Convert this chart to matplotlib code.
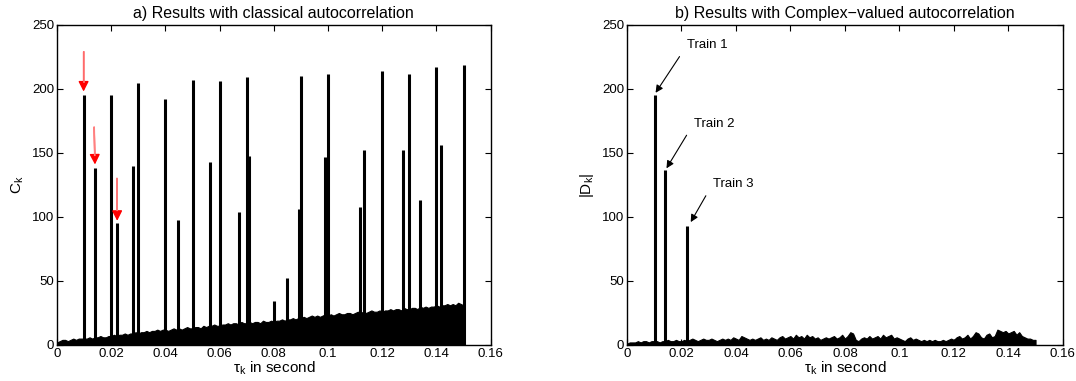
import numpy as np
import matplotlib.pyplot as plt
from matplotlib.ticker import FuncFormatter

plt.rcParams['font.family'] = ['Liberation Sans', 'DejaVu Sans']

# ---- data ----
# a) classical autocorrelation: peak lags (s) and heights
peak_tau_a = [0.0100, 0.0140, 0.0200, 0.0222, 0.0281, 0.0300, 0.0400, 0.0448,
              0.0500, 0.0566, 0.0600, 0.0670, 0.0700, 0.0707, 0.0800, 0.0847,
              0.0893, 0.0900, 0.0988, 0.0998, 0.1119, 0.1131, 0.1200, 0.1275,
              0.1300, 0.1341, 0.1400, 0.1416, 0.1503]
peak_val_a = [195, 138, 195, 95, 140, 205, 192, 98,
              207, 143, 206, 104, 209, 148, 34, 52,
              106, 210, 147, 212, 108, 152, 214, 152,
              212, 113, 217, 156, 219]

# noise floor, one value per ms from 0 to 0.150 s
floor_a = [2, 3, 4, 4, 3, 4, 5, 4, 5, 5,
           5, 5, 6, 5, 6, 6, 7, 6, 6, 7,
           7, 8, 7, 8, 8, 9, 8, 9, 9, 10,
           9, 10, 10, 11, 10, 11, 11, 12, 11, 12,
           12, 11, 12, 13, 12, 13, 12, 13, 14, 13,
           13, 14, 14, 13, 15, 14, 15, 15, 16, 15,
           15, 16, 16, 17, 16, 17, 17, 16, 18, 17,
           17, 18, 17, 18, 18, 17, 19, 18, 18, 19,
           18, 19, 19, 20, 19, 20, 20, 21, 20, 21,
           21, 22, 21, 22, 23, 22, 23, 22, 23, 24,
           23, 24, 23, 24, 25, 24, 24, 25, 25, 24,
           25, 26, 25, 26, 25, 26, 27, 26, 26, 27,
           26, 27, 27, 28, 27, 28, 28, 27, 29, 28,
           28, 29, 29, 28, 30, 29, 30, 29, 30, 30,
           31, 30, 31, 31, 32, 31, 32, 31, 33, 32, 31]

# b) complex-valued autocorrelation
peak_tau_b = [0.0102, 0.0141, 0.0221]
peak_val_b = [195, 137, 93]
floor_b = [1, 2, 2, 2, 3, 2, 3, 3, 2, 3,
           3, 3, 2, 3, 3, 4, 3, 3, 4, 3,
           3, 4, 3, 4, 5, 4, 3, 4, 5, 4,
           4, 5, 4, 3, 4, 5, 4, 5, 4, 6,
           5, 4, 7, 6, 5, 4, 5, 4, 5, 6,
           4, 5, 4, 6, 5, 4, 6, 7, 5, 6,
           7, 5, 8, 6, 7, 5, 8, 6, 7, 5,
           6, 4, 5, 6, 5, 6, 7, 5, 6, 8,
           5, 7, 10, 9, 4, 3, 5, 6, 5, 7,
           5, 6, 7, 5, 8, 6, 7, 8, 5, 6,
           5, 4, 3, 5, 6, 4, 5, 4, 3, 4,
           3, 4, 3, 4, 3, 3, 4, 3, 4, 5,
           4, 6, 7, 5, 6, 8, 5, 7, 10, 9,
           6, 5, 8, 9, 6, 7, 12, 11, 10, 11,
           9, 10, 11, 8, 10, 7, 6, 5, 5, 4, 4]

train_labels = ['Train 1', 'Train 2', 'Train 3']
train_text_xy = [(0.0220, 234), (0.0245, 173), (0.0315, 126)]
train_head_xy = [(0.0105, 197), (0.0145, 138), (0.0234, 96)]

red_tail_xy = [(0.0098, 229), (0.0137, 170), (0.0221, 130)]
red_head_xy = [(0.0098, 198), (0.0140, 141), (0.0222, 97)]

tau_floor = np.arange(len(floor_a)) * 0.001


def style_axes(ax, ylabel, title):
    ax.set_xlim(0, 0.16)
    ax.set_ylim(0, 250)
    ax.set_xticks(np.arange(0, 0.161, 0.02))
    ax.set_yticks(np.arange(0, 251, 50))
    ax.xaxis.set_major_formatter(FuncFormatter(lambda v, p: '%g' % round(v, 3)))
    ax.tick_params(direction='in', top=True, right=True, labelsize=9.5,
                   length=4, width=0.8, pad=2)
    for s in ax.spines.values():
        s.set_linewidth(1.0)
    ax.set_xlabel('τ$_\\mathregular{k}$ in second', fontsize=11, labelpad=0)
    ax.set_ylabel(ylabel, fontsize=11, labelpad=4)
    ax.set_title(title, fontsize=11.5, pad=5)


fig = plt.figure(figsize=(10.76, 3.81), dpi=100)
ax1 = fig.add_axes([0.053, 0.0945, 0.403, 0.84])
ax2 = fig.add_axes([0.5827, 0.0945, 0.405, 0.84])

# ---- a) ----
ax1.fill_between(tau_floor, 0, floor_a, color='black', lw=0.8)
ax1.vlines(peak_tau_a, 0, peak_val_a, color='black', lw=2.2)
for t, h in zip(red_tail_xy, red_head_xy):
    ax1.annotate('', xy=h, xytext=t,
                 arrowprops=dict(arrowstyle='-|>,head_length=0.55,head_width=0.28',
                                 color='red', lw=1.0, mutation_scale=11,
                                 shrinkA=0, shrinkB=0))
    # lighter shaft as in the original
    ax1.plot([t[0], t[0] + 0.75 * (h[0] - t[0])], [t[1], t[1] + 0.75 * (h[1] - t[1])],
             color='#ff8080', lw=1.2, zorder=5)
style_axes(ax1, 'C$_\\mathregular{k}$', 'a) Results with classical autocorrelation')

# ---- b) ----
ax2.fill_between(tau_floor, 0, floor_b, color='black', lw=0.8)
ax2.vlines(peak_tau_b, 0, peak_val_b, color='black', lw=2.2)
for lab, t, h in zip(train_labels, train_text_xy, train_head_xy):
    ax2.annotate(lab, xy=h, xytext=t, fontsize=9.5, ha='left', va='center',
                 arrowprops=dict(arrowstyle='-|>', color='black', lw=0.8,
                                 mutation_scale=11, shrinkA=6, shrinkB=0,
                                 relpos=(0, 0.5)))
style_axes(ax2, '|D$_\\mathregular{k}$|', 'b) Results with Complex\u2212valued autocorrelation')

fig.savefig('out.png', dpi=100)
